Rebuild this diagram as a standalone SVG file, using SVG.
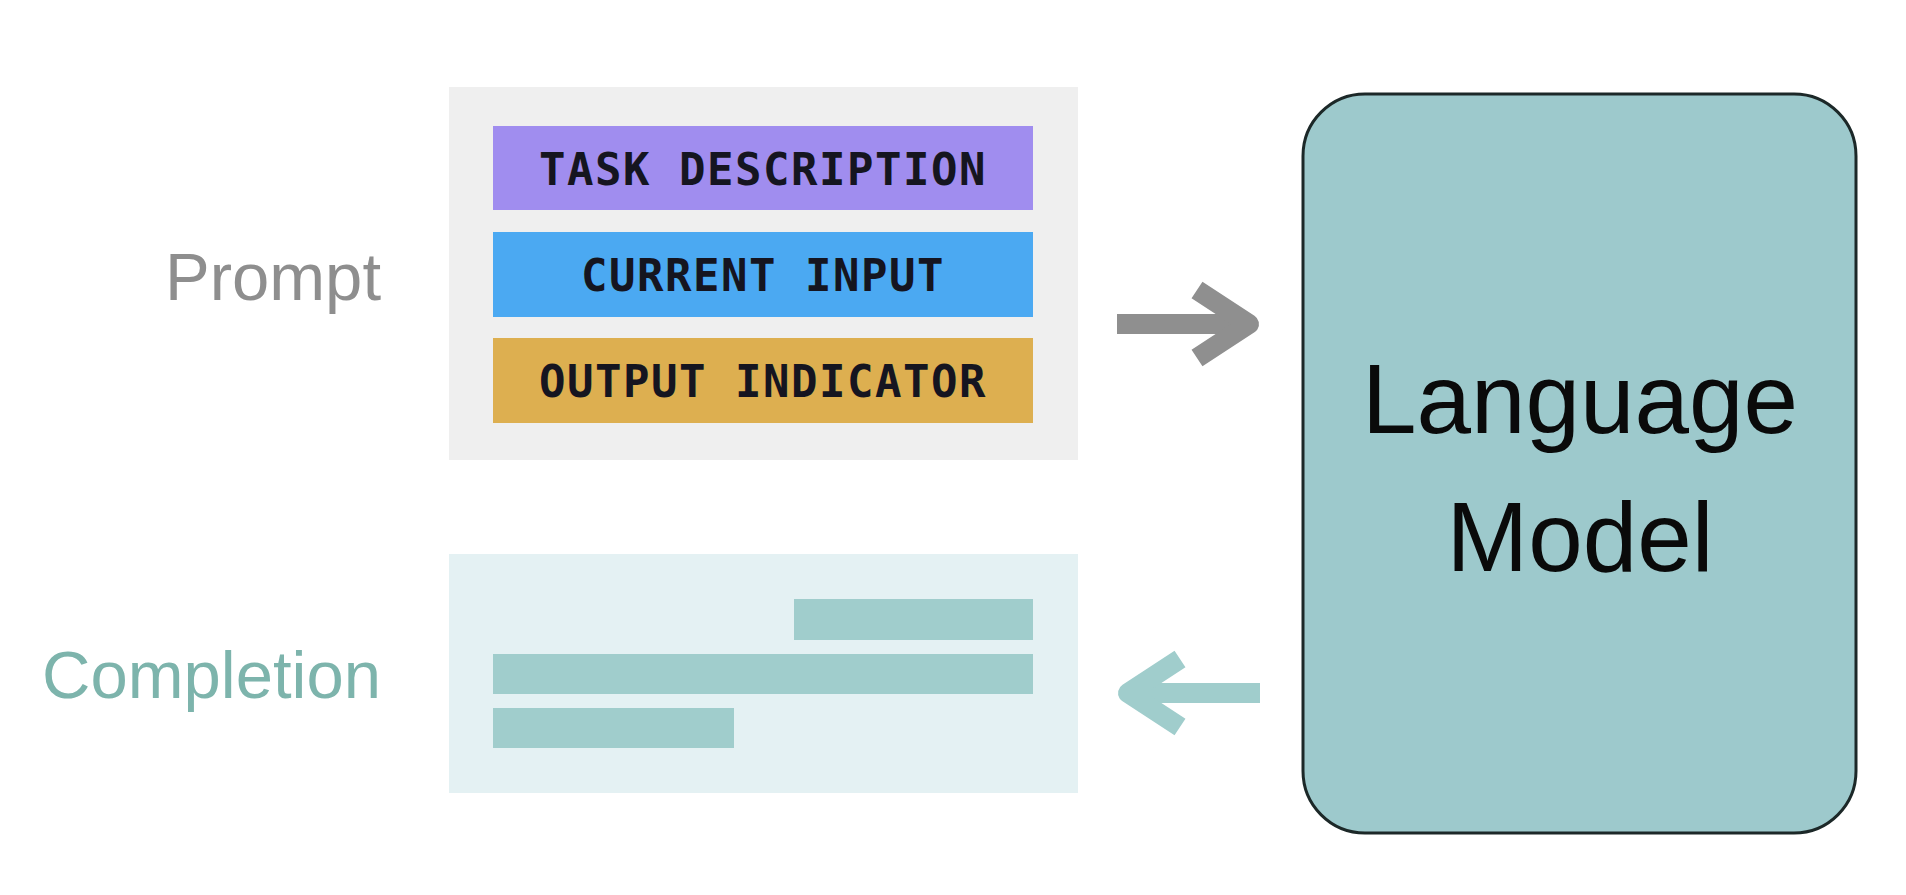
<svg xmlns="http://www.w3.org/2000/svg" width="1906" height="895" viewBox="0 0 1906 895">
  <defs>
    <style>
      .label { font-family: "Liberation Sans", Arial, sans-serif; font-size: 67px; text-anchor: end; }
      .bartext { font-family: "DejaVu Sans Mono", "Liberation Mono", monospace; font-size: 44px; font-weight: bold; letter-spacing: 1.5px; fill: #151520; text-anchor: middle; }
      .lm { font-family: "Liberation Sans", Arial, sans-serif; font-size: 98px; fill: #0a0a0a; text-anchor: middle; }
      .cbar { fill: #a0cdcc; }
      .arrow { fill: none; stroke-width: 20; stroke-linejoin: round; stroke-linecap: butt; }
    </style>
  </defs>
  <rect width="1906" height="895" fill="#ffffff"/>

  <g id="prompt-label">
    <text class="label" x="381" y="300" fill="#8e8e8e">Prompt</text>
  </g>
  <g id="completion-label">
    <text class="label" x="381" y="698" fill="#7db4ac">Completion</text>
  </g>

  <g id="prompt">
    <rect x="449" y="87" width="629" height="373" fill="#efefef"/>
    <g id="task-description">
      <rect x="493" y="126" width="540" height="84" fill="#a08def"/>
      <text class="bartext" x="763" y="185">TASK DESCRIPTION</text>
    </g>
    <g id="current-input">
      <rect x="493" y="232" width="540" height="85" fill="#4ba9f2"/>
      <text class="bartext" x="763" y="291">CURRENT INPUT</text>
    </g>
    <g id="output-indicator">
      <rect x="493" y="338" width="540" height="85" fill="#ddaf50"/>
      <text class="bartext" x="763" y="397">OUTPUT INDICATOR</text>
    </g>
  </g>

  <g id="completion">
    <rect x="449" y="554" width="629" height="239" fill="#e4f1f3"/>
    <rect class="cbar" x="794" y="599" width="239" height="41"/>
    <rect class="cbar" x="493" y="654" width="540" height="40"/>
    <rect class="cbar" x="493" y="708" width="241" height="40"/>
  </g>

  <g id="language-model">
    <rect x="1303" y="94" width="553" height="739" rx="62" ry="62" fill="#9dc9cc" stroke="#1c2828" stroke-width="3"/>
    <text class="lm" x="1580" y="433">Language</text>
    <text class="lm" x="1580" y="571">Model</text>
  </g>

  <g id="connectors">
    <g stroke="#8f8f8f">
      <line class="arrow" x1="1117" y1="324" x2="1246" y2="324"/>
      <polyline class="arrow" points="1197,290 1249,324 1197,358"/>
    </g>
    <g stroke="#a0cdcc">
      <line class="arrow" x1="1260" y1="693" x2="1130" y2="693"/>
      <polyline class="arrow" points="1180,659 1128,693 1180,727"/>
    </g>
  </g>
</svg>
